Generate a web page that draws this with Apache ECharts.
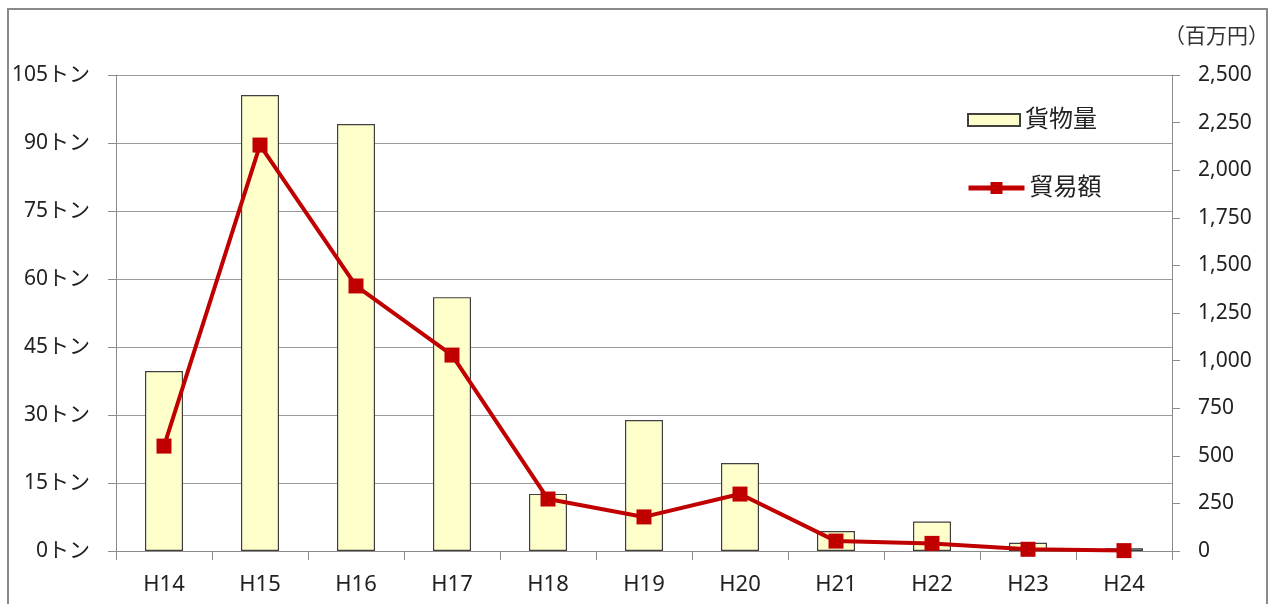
<!DOCTYPE html>
<html>
<head>
<meta charset="utf-8">
<script src="https://cdn.jsdelivr.net/npm/echarts@6/dist/echarts.min.js"></script>
<style>
html,body{margin:0;padding:0;background:#fff;}
#frame{position:absolute;left:7px;top:8px;width:1261px;height:600px;border:2px solid #8a8a8a;border-bottom:none;box-sizing:border-box;}
#c{position:absolute;left:0;top:0;width:1273px;height:604px;}
</style>
</head>
<body>
<div id="frame"></div>
<div id="c"></div>
<script>
const categories = ['H14','H15','H16','H17','H18','H19','H20','H21','H22','H23','H24'];
const cargoTons = [39.7, 100.6, 94.2, 56.0, 12.6, 28.9, 19.4, 4.4, 6.5, 1.8, 0.6];
const tradeValue = [551, 2132, 1392, 1029, 273, 179, 299, 52, 40, 9, 2];
const leftTicks = {min: 0, max: 105, interval: 15};
const rightTicks = {min: 0, max: 2500, interval: 250};

const font = '"Noto Sans", "Noto Sans CJK JP", sans-serif';
const chart = echarts.init(document.getElementById('c'));
chart.setOption({
  animation: false,
  grid: {left: 116, right: 101, top: 75, bottom: 53},
  legend: [
    {data: [{name: '貨物量', icon: 'rect'}], left: 962, top: 103, itemWidth: 52, itemHeight: 12, itemGap: 6,
     textStyle: {fontFamily: font, fontSize: 24, color: '#222'}},
    {data: ['貿易額'], left: 961, top: 171, itemWidth: 56, itemHeight: 15, itemGap: 6,
     lineStyle: {width: 5},
     textStyle: {fontFamily: font, fontSize: 24, color: '#222'}}
  ],
  graphic: [{type: 'text', left: 1164, top: 27, style: {text: '（百万円）', fontFamily: font, fontSize: 21, fill: '#333'}}],
  xAxis: {
    type: 'category', data: categories,
    axisLine: {lineStyle: {color: '#8c8c8c', width: 1}},
    axisTick: {show: true, length: 9, lineStyle: {color: '#8c8c8c'}},
    axisLabel: {fontFamily: font, fontSize: 22, color: '#222', margin: 23}
  },
  yAxis: [
    {type: 'value', min: leftTicks.min, max: leftTicks.max, interval: leftTicks.interval,
     axisLine: {show: true, lineStyle: {color: '#8c8c8c'}},
     axisTick: {show: true, length: 8, lineStyle: {color: '#8c8c8c'}},
     splitLine: {lineStyle: {color: '#9a9a9a', width: 1}},
     axisLabel: {fontFamily: font, fontSize: 21, color: '#222', margin: 26, formatter: v => v + 'トン'}},
    {type: 'value', min: rightTicks.min, max: rightTicks.max, interval: rightTicks.interval,
     axisLine: {show: true, lineStyle: {color: '#8c8c8c'}},
     axisTick: {show: true, length: 8, lineStyle: {color: '#8c8c8c'}},
     splitLine: {show: false},
     axisLabel: {fontFamily: font, fontSize: 21, color: '#222', margin: 26, formatter: v => v.toLocaleString('en-US')}}
  ],
  series: [
    {name: '貨物量', type: 'bar', data: cargoTons, yAxisIndex: 0, barWidth: 38,
     itemStyle: {color: '#ffffcc', borderColor: '#404040', borderWidth: 1.2}},
    {name: '貿易額', type: 'line', data: tradeValue, yAxisIndex: 1,
     symbol: 'rect', symbolSize: 15,
     lineStyle: {color: '#c00000', width: 4},
     itemStyle: {color: '#c00000'}}
  ]
});
</script>
</body>
</html>
